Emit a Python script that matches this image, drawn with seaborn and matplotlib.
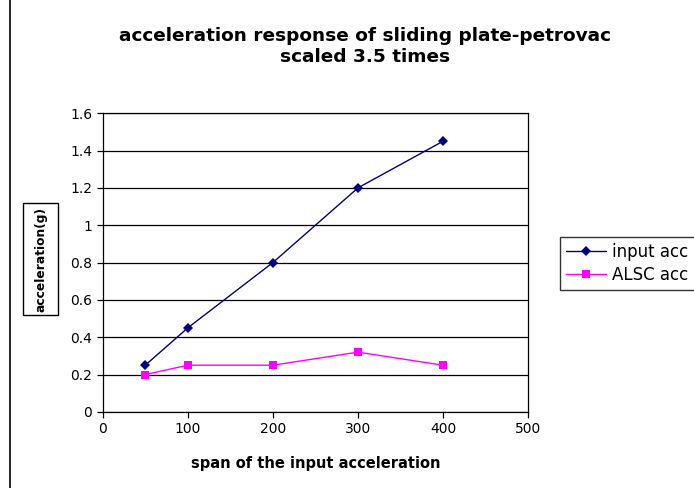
import pandas as pd
import matplotlib
matplotlib.use("Agg")
import matplotlib.pyplot as plt
import seaborn as sns
from matplotlib.patches import Rectangle

sns.set_style("white")
plt.rcParams['font.family'] = ['DejaVu Sans']
plt.rcParams['text.color'] = 'black'
plt.rcParams['axes.labelcolor'] = 'black'

# data
span = [50, 100, 200, 300, 400]
input_acc = [0.25, 0.45, 0.80, 1.20, 1.45]
alsc_acc = [0.20, 0.25, 0.25, 0.32, 0.25]

df = pd.DataFrame({'span': span * 2,
                   'acc': input_acc + alsc_acc,
                   'series': ['input acc'] * len(span) + ['ALSC acc'] * len(span)})

fig = plt.figure(figsize=(6.94, 4.88), dpi=100)
ax = fig.add_axes([0.148, 0.156, 0.613, 0.612])

# chart frame (cropped on the right like the original)
fig.patches.append(Rectangle((10 / 694, -0.01), 1.0, 1.02, transform=fig.transFigure,
                             fill=False, edgecolor='black', linewidth=1.2))

sns.lineplot(data=df, x='span', y='acc', hue='series', style='series',
             palette={'input acc': '#000080', 'ALSC acc': '#FF00FF'},
             markers={'input acc': 'D', 'ALSC acc': 's'},
             dashes=False, linewidth=1.0, markersize=5.5,
             markeredgewidth=0, ax=ax)

ax.set_xlim(0, 500)
ax.set_ylim(0, 1.6)
ax.set_xticks([0, 100, 200, 300, 400, 500])
ax.set_yticks([0, 0.2, 0.4, 0.6, 0.8, 1, 1.2, 1.4, 1.6])
ax.set_yticklabels(['0', '0.2', '0.4', '0.6', '0.8', '1', '1.2', '1.4', '1.6'])
ax.yaxis.grid(True, color='black', linewidth=0.9)
ax.set_axisbelow(True)
for s in ax.spines.values():
    s.set_color('black')
    s.set_linewidth(0.9)
ax.tick_params(axis='both', direction='out', length=4, width=0.9,
               labelsize=10, colors='black', left=True, bottom=True)

ax.set_xlabel('span of the input acceleration', fontsize=10.5, fontweight='bold',
              labelpad=14)
ax.set_ylabel('')

# boxed y label like the Excel original
fig.patches.append(Rectangle((23 / 694, 1 - 315 / 488), 35 / 694, 112 / 488,
                             transform=fig.transFigure, facecolor='white',
                             edgecolor='black', linewidth=1))
fig.text(41 / 694, 1 - 259 / 488, 'acceleration(g)', rotation=90, ha='center',
         va='center', fontsize=8.8, fontweight='bold')

fig.text(365 / 694, 0.905, 'acceleration response of sliding plate-petrovac\nscaled 3.5 times',
         ha='center', va='center', fontsize=13.3, fontweight='bold', linespacing=1.25)

leg = ax.legend(title=None, loc='upper left', fontsize=12, frameon=True,
                fancybox=False, edgecolor='black', borderpad=0.35,
                borderaxespad=0, handlelength=2.4, handletextpad=0.4,
                labelspacing=0.3)
leg.set_bbox_to_anchor((560 / 694, 1 - 237 / 488), transform=fig.transFigure)
leg.get_frame().set_linewidth(1)

fig.savefig('out.png', dpi=100)
